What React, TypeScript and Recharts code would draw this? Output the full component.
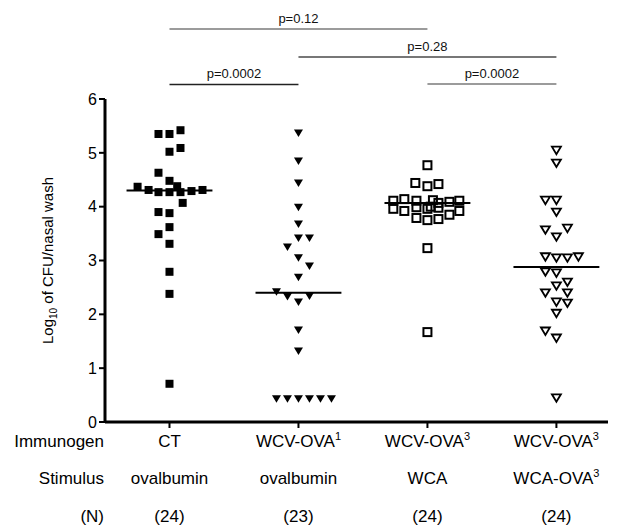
import { ScatterChart, Scatter, XAxis, YAxis, ReferenceLine } from "recharts"

const FONT = "'Liberation Sans', Arial, Helvetica, sans-serif"

// group positions on the x axis
const groups = [1, 2, 3, 4]

// bottom table text
const immunogens = ["CT", "WCV-OVA", "WCV-OVA", "WCV-OVA"]
const immunogenSup = ["", "1", "3", "3"]
const stimuli = ["ovalbumin", "ovalbumin", "WCA", "WCA-OVA"]
const stimulusSup = ["", "", "", "3"]
const counts = ["(24)", "(23)", "(24)", "(24)"]

const yTicks = [0, 1, 2, 3, 4, 5, 6]

// Log10 CFU values per group, with the beeswarm slot of each point
const ctValues = [5.35, 5.35, 5.42, 5.02, 5.09, 4.63, 4.48, 4.38, 4.37, 4.31, 4.27, 4.27, 4.27, 4.29, 4.31, 4.07, 3.9, 3.88, 3.62, 3.49, 3.31, 2.79, 2.38, 0.71]
const ctSlots = [-1, 0, 1, 0, 1, -1, 0, 0.7, -2.9, -1.9, -1, 0, 1, 2, 3, 1.2, -1, 0, 0, -1, 0, 0, 0, 0]

const ova1Values = [5.37, 4.85, 4.44, 3.99, 3.68, 3.42, 3.42, 3.25, 3.05, 2.9, 2.69, 2.42, 2.33, 2.23, 2.34, 1.71, 1.32, 0.43, 0.43, 0.43, 0.43, 0.43, 0.43]
const ova1Slots = [0, 0, 0, 0, 0, 0, 1, -1, 0, 1, 0, -2, -1, 0, 1, 0, 0, -2, -1, 0, 1, 2, 3]

const wcaValues = [4.77, 4.44, 4.38, 4.42, 4.11, 4.14, 4.11, 4.12, 4.07, 4.09, 4.11, 3.96, 3.92, 3.99, 3.96, 3.98, 3.85, 3.92, 4.0, 3.79, 3.75, 3.77, 3.23, 1.67]
const wcaSlots = [0, -1.1, 0, 1, -3.1, -2.1, -1, 0.5, 1, 2, 2.9, -3.1, -2.1, -1, 0, 1, 2, 2.9, 0.3, -1, 0, 1, 0, 0]

const wcaOvaValues = [5.05, 4.81, 4.12, 4.12, 3.9, 3.57, 3.44, 3.6, 3.07, 3.05, 3.05, 3.07, 2.79, 2.77, 2.6, 2.53, 2.4, 2.4, 2.23, 2.21, 2.02, 1.69, 1.56, 0.45]
const wcaOvaSlots = [0, 0, -1, 0, 0, -1, 0, 1, -1, 0, 1, 2, -1, 0, 1, 0, -1, 1, 0, 1, 0, -1, 0, 0]

const medians = [4.3, 2.4, 4.07, 2.88]

// comparison brackets above the plot
const pFrom = [1, 2, 1, 3]
const pTo = [3, 4, 2, 4]
const pLevel = [7.3, 6.78, 6.27, 6.28]
const pLabels = ["p=0.12", "p=0.28", "p=0.0002", "p=0.0002"]
const pColors = ["#7a7a7a", "#4a4a4a", "#222", "#7a7a7a"]

const SLOT = 0.0853
const HALF_MEDIAN = 0.333

const toPoints = (g: number, values: number[], slots: number[]) =>
  values.map((v, i) => ({ x: g + slots[i] * SLOT, y: v }))

const filledSquare = (p: any) => <rect x={p.cx - 4} y={p.cy - 4} width={8} height={8} fill="#000" />
const openSquare = (p: any) => (
  <rect x={p.cx - 4} y={p.cy - 4} width={8} height={8} fill="none" stroke="#000" strokeWidth={2} />
)
const filledTriangle = (p: any) => (
  <path d={`M${p.cx - 4.5},${p.cy - 3.5}L${p.cx + 4.5},${p.cy - 3.5}L${p.cx},${p.cy + 4}Z`} fill="#000" />
)
const openTriangle = (p: any) => (
  <path
    d={`M${p.cx - 4.5},${p.cy - 3.5}L${p.cx + 4.5},${p.cy - 3.5}L${p.cx},${p.cy + 4}Z`}
    fill="none"
    stroke="#000"
    strokeWidth={1.8}
    strokeLinejoin="miter"
  />
)

function CategoryTick(props: any) {
  const { x, y, payload } = props
  const i = groups.indexOf(payload.value)
  if (i < 0) return null
  return (
    <g fontFamily={FONT} fontSize={17} fill="#000">
      {i === 0 && (
        <g textAnchor="end">
          <text x={104} y={y + 17}>Immunogen</text>
          <text x={104} y={y + 54}>Stimulus</text>
          <text x={104} y={y + 92}>(N)</text>
        </g>
      )}
      <text x={x} y={y + 17} textAnchor="middle">
        {immunogens[i]}
        {immunogenSup[i] && (
          <tspan dy={-7} fontSize={11}>
            {immunogenSup[i]}
          </tspan>
        )}
      </text>
      <text x={x} y={y + 54} textAnchor="middle">
        {stimuli[i]}
        {stimulusSup[i] && (
          <tspan dy={-7} fontSize={11}>
            {stimulusSup[i]}
          </tspan>
        )}
      </text>
      <text x={x} y={y + 92} textAnchor="middle">
        {counts[i]}
      </text>
    </g>
  )
}

function YLabel(props: any) {
  const vb = props.viewBox || { x: 0, y: 99, width: 105, height: 323 }
  const cx = 53
  const cy = vb.y + vb.height / 2
  return (
    <text
      x={cx}
      y={cy}
      transform={`rotate(-90, ${cx}, ${cy})`}
      textAnchor="middle"
      fontFamily={FONT}
      fontSize={15}
      fill="#000"
    >
      Log
      <tspan dy={4} fontSize={10}>
        10
      </tspan>
      <tspan dy={-4}> of CFU/nasal wash</tspan>
    </text>
  )
}

function PLabel(props: any) {
  const vb = props.viewBox
  if (!vb) return null
  return (
    <text
      x={vb.x + vb.width / 2}
      y={vb.y - 6}
      textAnchor="middle"
      fontFamily={FONT}
      fontSize={13}
      fill="#111"
    >
      {props.text}
    </text>
  )
}

export default function App() {
  return (
    <div style={{ position: "absolute", left: 0, top: 0, width: 619, height: 525, background: "#fff" }}>
      <ScatterChart width={619} height={525} margin={{ top: 99, right: 11, bottom: 0, left: 0 }}>
        <XAxis
          type="number"
          dataKey="x"
          domain={[0.5, 4.4]}
          ticks={groups}
          interval={0}
          height={103}
          allowDataOverflow
          axisLine={{ stroke: "#000", strokeWidth: 3 }}
          tickLine={{ stroke: "#000", strokeWidth: 2 }}
          tickSize={6}
          tick={<CategoryTick />}
        />
        <YAxis
          type="number"
          dataKey="y"
          domain={[0, 6]}
          ticks={yTicks}
          interval={0}
          width={105}
          allowDataOverflow
          axisLine={{ stroke: "#000", strokeWidth: 3 }}
          tickLine={{ stroke: "#000", strokeWidth: 2 }}
          tickSize={6}
          tickMargin={2}
          tick={{ fill: "#000", fontSize: 16, fontFamily: FONT }}
          label={<YLabel />}
        />
        <Scatter data={toPoints(1, ctValues, ctSlots)} shape={filledSquare} isAnimationActive={false} />
        <Scatter data={toPoints(2, ova1Values, ova1Slots)} shape={filledTriangle} isAnimationActive={false} />
        <Scatter data={toPoints(3, wcaValues, wcaSlots)} shape={openSquare} isAnimationActive={false} />
        <Scatter data={toPoints(4, wcaOvaValues, wcaOvaSlots)} shape={openTriangle} isAnimationActive={false} />
        {medians.map((m, i) => (
          <ReferenceLine
            key={`m${i}`}
            segment={[
              { x: groups[i] - HALF_MEDIAN, y: m },
              { x: groups[i] + HALF_MEDIAN, y: m },
            ]}
            stroke="#000"
            strokeWidth={2}
          />
        ))}
        {pLabels.map((lab, i) => (
          <ReferenceLine
            key={`p${i}`}
            segment={[
              { x: pFrom[i], y: pLevel[i] },
              { x: pTo[i], y: pLevel[i] },
            ]}
            ifOverflow="visible"
            stroke={pColors[i]}
            strokeWidth={1.5}
            label={<PLabel text={lab} />}
          />
        ))}
      </ScatterChart>
    </div>
  )
}
